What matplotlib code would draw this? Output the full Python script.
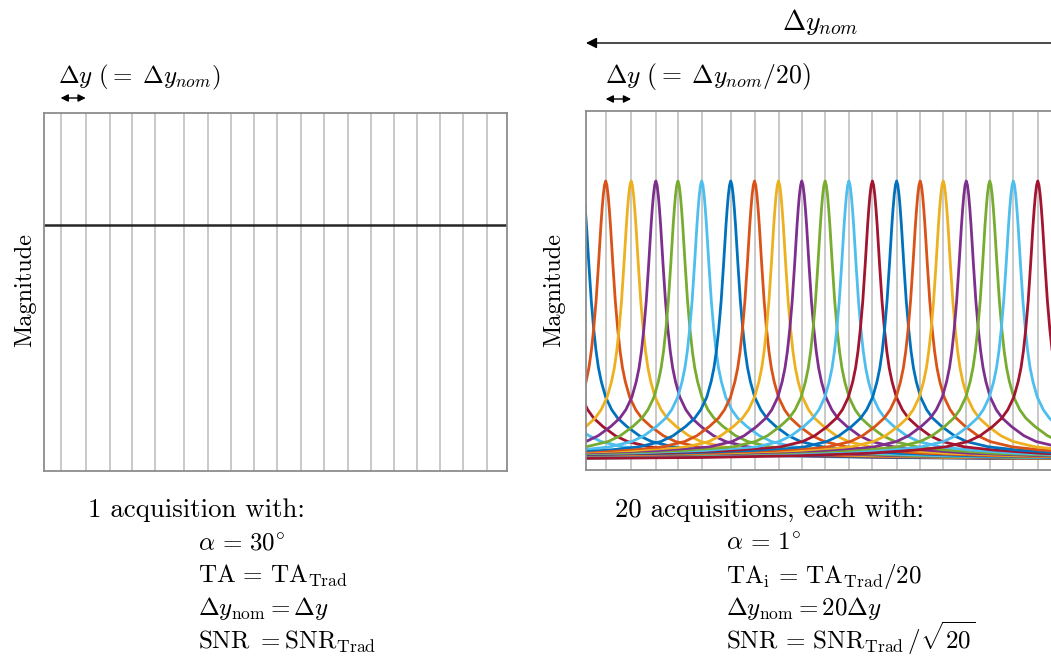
import numpy as np
import matplotlib
matplotlib.use("Agg")
import matplotlib.pyplot as plt

plt.rcParams["mathtext.fontset"] = "cm"
plt.rcParams["axes.unicode_minus"] = False

# ======== data
# slice (grid line) positions, in units of the nominal slice step
slice_pos = [0, 1.06, 2.09, 3.01, 4.0, 5.21, 6.2, 7.2, 8.17, 9.14,
             10.13, 11.11, 12.12, 13.1, 14.06, 15.02, 16.0, 16.98, 18.0]
# single acquisition: flat magnitude level
flat_level = 0.85
# 20 acquisitions: peak centres (first one sits just left of the frame);
# the tails of two more peaks come in from outside the left edge
peak_centres = [-3.1, -2.0, -1.0] + slice_pos
# one peak profile: distance from centre -> magnitude
prof_d = [0, 0.05, 0.1, 0.15, 0.2, 0.25, 0.3, 0.4, 0.5, 0.6, 0.7, 0.82, 1.0, 1.25, 1.5,
          1.88, 2.4, 2.91, 3.83, 5.0, 7.0, 10.0, 14.0, 20.0, 25.0]
prof_v = [1.0, 0.985, 0.95, 0.90, 0.84, 0.77, 0.70, 0.57, 0.47, 0.39, 0.33, 0.28, 0.225,
          0.18, 0.15, 0.12, 0.087, 0.066, 0.047, 0.036, 0.024, 0.015, 0.009, 0.005, 0.004]

# matlab default colour order, as seen on the peaks
c = {"b": "#0072BD", "o": "#D95319", "y": "#EDB120", "p": "#7E2F8E",
     "g": "#77AC30", "l": "#4DBEEE", "r": "#A2142F"}
peak_colours = ["l", "r", "b", "o", "y", "p", "g", "l", "b", "o", "y", "p",
                "g", "l", "r", "b", "o", "y", "p", "g", "l", "r"]

W, H = 1051, 657


def fx(px):
    return px / W


def fy(py):
    return 1 - py / H


fig = plt.figure(figsize=(W / 100, H / 100), dpi=100)
ax1 = fig.add_axes([fx(44), fy(471), fx(507) - fx(44), fy(113) - fy(471)])
ax2 = fig.add_axes([fx(586), fy(470), fx(1057) - fx(586), fy(110.7) - fy(470)])

for ax in (ax1, ax2):
    ax.set_xticks(slice_pos)
    ax.tick_params(length=0, labelbottom=False, labelleft=False)
    ax.set_yticks([])
    ax.xaxis.grid(True, color="#c0c0c0", lw=1.2)
    ax.set_axisbelow(True)
    ax.set_ylim(-0.036, 1.252)
    for s in ax.spines.values():
        s.set_color("#8c8c8c")
        s.set_linewidth(1.3)

ax1.set_xlim(-0.70, 18.83)
ax2.set_xlim(-0.82, 18.8)

# ========left: one acquisition
ax1.axhline(flat_level, color="#262626", lw=1.8)

# ========right: 20 acquisitions
d = np.array(prof_d)
v = np.array(prof_v)
xs = np.concatenate([-d[::-1], d[1:]])
ys = np.concatenate([v[::-1], v[1:]])
for cen, col in zip(peak_centres, peak_colours):
    ax2.plot(cen + xs, ys, color=c[col], lw=2.0, solid_joinstyle="round")

# ========labels
for xc in (25, 554):
    fig.text(fx(xc), fy(290), "Magnitude", rotation=90, ha="center", va="center",
             fontsize=17.5, family="cmr10")

fig.text(fx(58), fy(83), r"$\Delta y\ (=\;\Delta y_{nom})$", fontsize=18, va="baseline")
fig.text(fx(605), fy(83), r"$\Delta y\ (=\;\Delta y_{nom}/20)$", fontsize=18.5, va="baseline")

# small step arrows, one slice wide
for ax, yp in ((ax1, 98), (ax2, 99)):
    ax.annotate("", xy=(slice_pos[0], fy(yp)), xytext=(slice_pos[1], fy(yp)),
                xycoords=("data", "figure fraction"), textcoords=("data", "figure fraction"),
                arrowprops=dict(arrowstyle="<|-|>", color="black", lw=1.0,
                                mutation_scale=11, shrinkA=0, shrinkB=0),
                annotation_clip=False)

# long arrow over the right panel
ax2.annotate("", xy=(0.0, fy(43)), xytext=(1.0, fy(43)),
             xycoords=("axes fraction", "figure fraction"),
             textcoords=("axes fraction", "figure fraction"),
             arrowprops=dict(arrowstyle="-|>", color="black", lw=1.0,
                             mutation_scale=16, shrinkA=0, shrinkB=0),
             annotation_clip=False)
fig.text(fx(820), fy(30), r"$\Delta y_{nom}$", fontsize=20, ha="center", va="baseline")

# ========bottom captions
fig.text(fx(88), fy(517), "1 acquisition with:", fontsize=19.3, family="cmr10", va="baseline")
left_lines = [r"$\alpha\, =\, 30^{\circ}$",
              r"$\mathrm{TA}\, =\, \mathrm{TA}_{\mathrm{Trad}}$",
              r"$\Delta y_{\mathrm{nom}} = \Delta y$",
              r"$\mathrm{SNR}\ {=}\mathrm{SNR}_{\mathrm{Trad}}$"]
line_y = [550, 583, 615, 649]
for yy, s in zip(line_y, left_lines):
    fig.text(fx(198), fy(yy), s, fontsize=18, va="baseline")

fig.text(fx(615), fy(517), "20 acquisitions, each with:", fontsize=19.3, family="cmr10",
         va="baseline")
right_lines = [r"$\alpha\, =\, 1^{\circ}$",
               r"$\mathrm{TA}_{\mathrm{i}}\, =\, \mathrm{TA}_{\mathrm{Trad}}/20$",
               r"$\Delta y_{\mathrm{nom}} = 20\Delta y$",
               r"$\mathrm{SNR}\, =\, \mathrm{SNR}_{\mathrm{Trad}}\,/\sqrt{20}$"]
for yy, s in zip(line_y, right_lines):
    fig.text(fx(726), fy(yy), s, fontsize=18, va="baseline")

fig.savefig("out.png", dpi=100)
